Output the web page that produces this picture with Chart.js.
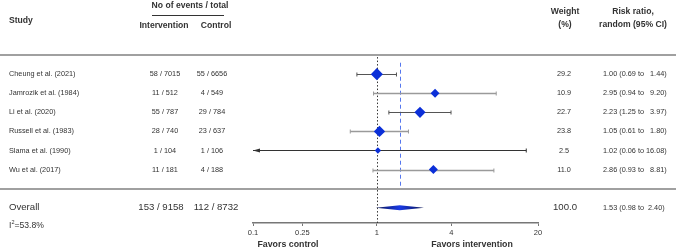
<!DOCTYPE html>
<html>
<head>
<meta charset="utf-8">
<script src="https://cdn.jsdelivr.net/npm/chart.js@4.4.0/dist/chart.umd.min.js"></script>
<style>
  html, body { margin: 0; padding: 0; background: #fff; }
</style>
</head>
<body>
<canvas id="forest" width="676" height="250"></canvas>
<script>
// study level data
const studies = ['Cheung et al. (2021)', 'Jamrozik et al. (1984)', 'Li et al. (2020)',
  'Russell et al. (1983)', 'Slama et al. (1990)', 'Wu et al. (2017)'];
const intEvents = [58, 11, 55, 28, 1, 11];
const intTotal = [7015, 512, 787, 740, 104, 181];
const ctrlEvents = [55, 4, 29, 23, 1, 4];
const ctrlTotal = [6656, 549, 784, 637, 106, 188];
const riskRatio = [1.00, 2.95, 2.23, 1.05, 1.02, 2.86];
const ciLow = [0.69, 0.94, 1.25, 0.61, 0.06, 0.93];
const ciHigh = [1.44, 9.20, 3.97, 1.80, 16.08, 8.81];
const weights = [29.2, 10.9, 22.7, 23.8, 2.5, 11.0];

// pooled result
const overallEvents = [153, 112];
const overallTotal = [9158, 8732];
const overallRR = 1.53;
const overallLow = 0.98;
const overallHigh = 2.40;
const overallWeight = 100.0;
const i2 = 53.8;

const xTicks = [0.1, 0.25, 1, 4, 20];

// styles
const whiskerColors = ['#555', '#9a9a9a', '#555', '#9a9a9a', '#333', '#9a9a9a'];
const whiskerWidths = [1, 1.6, 1, 1.6, 1, 1.6];
const OVERALL_ROW = 7;
const FONT = '"Liberation Sans", Arial, sans-serif';

const fmt = v => v.toFixed(2);
const ciText = i => {
  const hi = fmt(ciHigh[i]);
  return fmt(riskRatio[i]) + ' (' + fmt(ciLow[i]) + ' to ' + (hi.length < 5 ? '  ' : '') + hi + ')';
};
const markerSize = w => 2 + Math.sqrt(w) * 0.75;

const forestPlugin = {
  id: 'forest',
  beforeDraw(chart) {
    const ctx = chart.ctx;
    ctx.save();
    ctx.fillStyle = '#fff';
    ctx.fillRect(0, 0, chart.width, chart.height);
    ctx.restore();
  },
  beforeDatasetsDraw(chart) {
    const { ctx, chartArea } = chart;
    const xs = chart.scales.x, ys = chart.scales.y;
    ctx.save();

    // separators
    ctx.strokeStyle = '#808080';
    ctx.lineWidth = 1.5;
    [-1, 6].forEach(r => {
      const y = Math.round(ys.getPixelForValue(r));
      ctx.beginPath(); ctx.moveTo(0, y); ctx.lineTo(chart.width, y); ctx.stroke();
    });

    // line of no effect
    const x1 = Math.round(xs.getPixelForValue(1)) + 0.5;
    ctx.strokeStyle = '#333';
    ctx.lineWidth = 1;
    ctx.setLineDash([1.5, 2]);
    ctx.beginPath(); ctx.moveTo(x1, ys.getPixelForValue(-1) + 2); ctx.lineTo(x1, chartArea.bottom); ctx.stroke();

    // pooled estimate line
    const xo = Math.round(xs.getPixelForValue(overallRR)) + 0.5;
    ctx.strokeStyle = '#5577ee';
    ctx.setLineDash([4, 3]);
    ctx.beginPath(); ctx.moveTo(xo, ys.getPixelForValue(-0.6)); ctx.lineTo(xo, ys.getPixelForValue(6)); ctx.stroke();
    ctx.setLineDash([]);

    // confidence intervals
    riskRatio.forEach((rr, i) => {
      const y = Math.round(ys.getPixelForValue(i)) + 0.5;
      const clippedLow = ciLow[i] < xs.min;
      const xl = xs.getPixelForValue(Math.max(ciLow[i], xs.min));
      const xr = xs.getPixelForValue(Math.min(ciHigh[i], xs.max));
      ctx.strokeStyle = whiskerColors[i];
      ctx.fillStyle = whiskerColors[i];
      ctx.lineWidth = whiskerWidths[i];
      ctx.beginPath(); ctx.moveTo(xl, y); ctx.lineTo(xr, y); ctx.stroke();
      ctx.lineWidth = 1;
      ctx.beginPath();
      if (!clippedLow) { ctx.moveTo(xl, y - 2); ctx.lineTo(xl, y + 2); }
      ctx.moveTo(xr, y - 2); ctx.lineTo(xr, y + 2);
      ctx.stroke();
      if (clippedLow) {
        ctx.beginPath();
        ctx.moveTo(xl, y); ctx.lineTo(xl + 7, y - 2); ctx.lineTo(xl + 7, y + 2); ctx.closePath();
        ctx.fill();
      }
    });

    // pooled diamond
    const yd = ys.getPixelForValue(OVERALL_ROW);
    const dl = xs.getPixelForValue(overallLow), dr = xs.getPixelForValue(overallHigh);
    const dc = xs.getPixelForValue(overallRR);
    const g = ctx.createLinearGradient(dl, 0, dr, 0);
    g.addColorStop(0, '#0a1450');
    g.addColorStop((dc - dl) / (dr - dl), '#1a3ae6');
    g.addColorStop(1, '#0a1450');
    ctx.fillStyle = g;
    ctx.beginPath();
    ctx.moveTo(dl, yd); ctx.lineTo(dc, yd - 2.5); ctx.lineTo(dr, yd); ctx.lineTo(dc, yd + 2.5);
    ctx.closePath(); ctx.fill();
    ctx.restore();
  },
  afterDraw(chart) {
    const ctx = chart.ctx;
    const ys = chart.scales.y;
    ctx.save();
    ctx.fillStyle = '#333';
    ctx.textBaseline = 'middle';

    const text = (s, x, y, align, font) => {
      ctx.font = font; ctx.textAlign = align; ctx.fillText(s, x, y);
    };
    const bold = 'bold 8.6px ' + FONT;
    const small = '7.3px ' + FONT;
    const big = '9.6px ' + FONT;

    // headers
    text('Study', 9, 21, 'left', bold);
    text('No of events / total', 190, 6, 'center', bold);
    ctx.strokeStyle = '#333'; ctx.lineWidth = 1;
    ctx.beginPath(); ctx.moveTo(152, 15.5); ctx.lineTo(224, 15.5); ctx.stroke();
    text('Intervention', 164, 26, 'center', bold);
    text('Control', 216, 26, 'center', bold);
    text('Weight', 565, 12, 'center', bold);
    text('(%)', 565, 25, 'center', bold);
    text('Risk ratio,', 633, 12, 'center', bold);
    text('random (95% CI)', 633, 25, 'center', bold);

    // study rows
    studies.forEach((s, i) => {
      const y = ys.getPixelForValue(i);
      text(s, 9, y, 'left', small);
      text(intEvents[i] + ' / ' + intTotal[i], 165, y, 'center', small);
      text(ctrlEvents[i] + ' / ' + ctrlTotal[i], 212, y, 'center', small);
      text(weights[i].toFixed(1), 564, y, 'center', small);
      text(ciText(i), 603, y, 'left', small);
    });

    // overall row
    const yo = ys.getPixelForValue(OVERALL_ROW);
    text('Overall', 9, yo, 'left', big);
    text(overallEvents[0] + ' / ' + overallTotal[0], 161, yo, 'center', big);
    text(overallEvents[1] + ' / ' + overallTotal[1], 216, yo, 'center', big);
    text(overallWeight.toFixed(1), 565, yo, 'center', big);
    text(fmt(overallRR) + ' (' + fmt(overallLow) + ' to  ' + fmt(overallHigh) + ')', 603, yo, 'left', small);

    // heterogeneity
    ctx.font = '8.6px ' + FONT; ctx.textAlign = 'left';
    ctx.fillText('I', 9, 226);
    ctx.font = '5.5px ' + FONT;
    ctx.fillText('2', 11.5, 222);
    ctx.font = '8.6px ' + FONT;
    ctx.fillText('=' + i2.toFixed(1) + '%', 14.5, 226);

    // favours labels
    text('Favors control', 288, 245, 'center', 'bold 8.8px ' + FONT);
    text('Favors intervention', 472, 245, 'center', 'bold 8.8px ' + FONT);
    ctx.restore();
  }
};

new Chart(document.getElementById('forest'), {
  type: 'scatter',
  data: {
    datasets: [{
      data: riskRatio.map((v, i) => ({ x: v, y: i })),
      pointStyle: 'rectRot',
      pointRadius: weights.map(markerSize),
      pointHoverRadius: weights.map(markerSize),
      backgroundColor: '#0b2fd8',
      borderColor: '#0b2fd8',
      borderWidth: 0
    }]
  },
  options: {
    responsive: false,
    animation: false,
    devicePixelRatio: 1,
    layout: { padding: { left: 253, right: 138, top: 0, bottom: 0 } },
    plugins: { legend: { display: false }, tooltip: { enabled: false } },
    scales: {
      x: {
        type: 'logarithmic',
        min: 0.1,
        max: 20,
        afterBuildTicks: scale => { scale.ticks = xTicks.map(v => ({ value: v })); },
        afterFit: scale => { scale.height = 27; },
        grid: { drawOnChartArea: false, tickLength: 3, color: '#777' },
        border: { color: '#777', width: 1.5 },
        ticks: {
          padding: 2,
          maxRotation: 0,
          autoSkip: false,
          color: '#333',
          font: { family: FONT, size: 7.5 },
          callback: v => String(v)
        }
      },
      y: {
        display: false,
        reverse: true,
        min: -3.57,
        max: 7.8
      }
    }
  },
  plugins: [forestPlugin]
});
</script>
</body>
</html>
